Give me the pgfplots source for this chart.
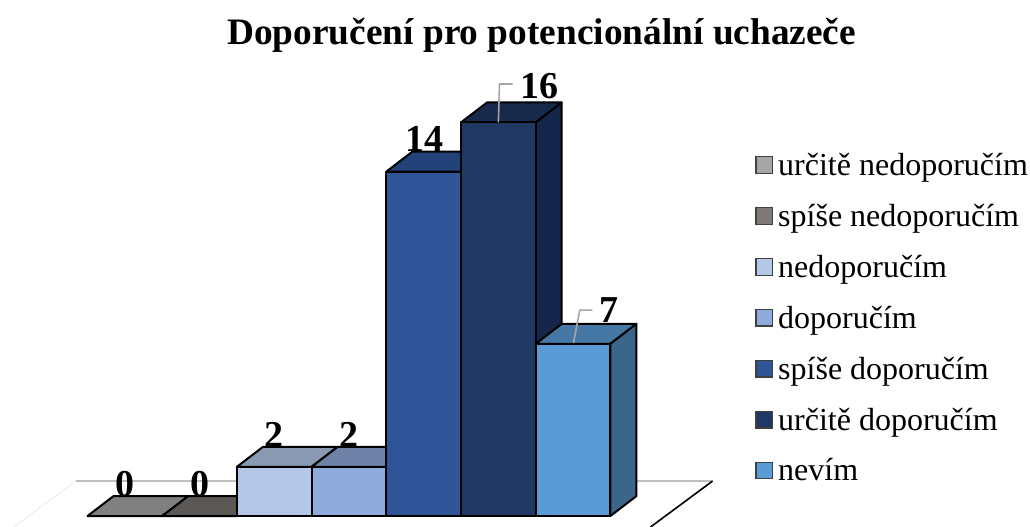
\documentclass[border=0pt]{standalone}
\usepackage{pgfplots}
\pgfplotsset{compat=1.18}
\usepackage{fontspec}
\setmainfont{Liberation Serif}
\definecolor{c1}{HTML}{A6A6A6}\definecolor{c1t}{HTML}{808080}
\definecolor{c2}{HTML}{7F7A78}\definecolor{c2t}{HTML}{5C5856}
\definecolor{c3}{HTML}{B4C7E7}\definecolor{c3t}{HTML}{8A9AB2}
\definecolor{c4}{HTML}{8FAADC}\definecolor{c4t}{HTML}{6E82A8}
\definecolor{c5}{HTML}{2F5597}\definecolor{c5t}{HTML}{24427A}
\definecolor{c6}{HTML}{1F3864}\definecolor{c6t}{HTML}{172A4C}\definecolor{c6s}{HTML}{15264A}
\definecolor{c7}{HTML}{5B9BD5}\definecolor{c7t}{HTML}{4678A5}\definecolor{c7s}{HTML}{3B6689}
\newcommand\lab[1]{{\fontsize{28.5}{30}\selectfont\bfseries #1}}
\begin{document}
\begin{tikzpicture}[x=1pt,y=1pt]
\path[use as bounding box] (0,0) rectangle (772.5pt,395.25pt);
\begin{axis}[at={(0,0)},anchor=south west,scale only axis,width=772.5pt,height=395.25pt,
  hide axis,clip=false,xmin=-1.6717,xmax=12.117,ymin=-0.447,ymax=20.976,
  legend cell align=left,
  legend style={at={(axis cs:8.44,14.86)},anchor=north west,draw=none,fill=none,
    font=\fontsize{24}{26}\selectfont,row sep=16pt,inner sep=0pt,outer sep=0pt},
  legend image code/.code={\draw[#1,line width=0.9pt,draw=black!75] (0pt,-6pt) rectangle (12.5pt,6.5pt);\path (14.5pt,0pt);},
  bar3/.style={draw=black,line width=1.5pt,line join=round,forget plot},
  front/.style={ybar,bar width=56pt,bar shift=0pt,bar3}]
\addlegendimage{fill=c1}\addlegendentry{určitě nedoporučím}
\addlegendimage{fill=c2}\addlegendentry{spíše nedoporučím}
\addlegendimage{fill=c3}\addlegendentry{nedoporučím}
\addlegendimage{fill=c4}\addlegendentry{doporučím}
\addlegendimage{fill=c5}\addlegendentry{spíše doporučím}
\addlegendimage{fill=c6}\addlegendentry{určitě doporučím}
\addlegendimage{fill=c7}\addlegendentry{nevím}
% floor
\addplot[forget plot,draw=black!25,line width=1.5pt] coordinates {(-0.66,1.42)(7.867,1.42)};
\addplot[forget plot,draw=black,line width=1.2pt] coordinates {(7.867,1.42)(7.037,-0.447)};
\addplot[forget plot,draw=black!15,line width=0.75pt,densely dotted] coordinates {(-0.66,1.42)(-1.49,-0.447)};
% value labels
\node[anchor=base] at (axis cs:0,0.81) {\lab{0}};
\node[anchor=base] at (axis cs:1,0.81) {\lab{0}};
\node[anchor=base] at (axis cs:2,2.8) {\lab{2}};
\node[anchor=base] at (axis cs:3,2.8) {\lab{2}};
\node[anchor=base] at (axis cs:4.01,14.8) {\lab{14}};
\node[anchor=base] at (axis cs:5.55,16.99) {\lab{16}};
\node[anchor=base] at (axis cs:6.48,7.85) {\lab{7}};
% title
\node[anchor=base] at (axis cs:5.58,19.15) {{\fontsize{28}{30}\selectfont\bfseries Doporučení pro potencionální uchazeče}};
% bars
\addplot[bar3,fill=c1t] coordinates {(-0.5,0)(0.5,0)(0.848,0.81)(-0.152,0.81)} -- cycle;
\addplot[bar3,fill=c2t] coordinates {(0.5,0)(1.5,0)(1.848,0.81)(0.848,0.81)} -- cycle;
\addplot[bar3,fill=c3t] coordinates {(1.5,2)(2.5,2)(2.848,2.81)(1.848,2.81)} -- cycle;
\addplot[front,fill=c3] coordinates {(2,2)};
\addplot[bar3,fill=c4t] coordinates {(2.5,2)(3.5,2)(3.848,2.81)(2.848,2.81)} -- cycle;
\addplot[front,fill=c4] coordinates {(3,2)};
\addplot[bar3,fill=c5t] coordinates {(3.5,14)(4.5,14)(4.848,14.81)(3.848,14.81)} -- cycle;
\addplot[front,fill=c5] coordinates {(4,14)};
\addplot[bar3,fill=c6t] coordinates {(4.5,16)(5.5,16)(5.848,16.81)(4.848,16.81)} -- cycle;
\addplot[bar3,fill=c6s] coordinates {(5.5,0)(5.848,0.81)(5.848,16.81)(5.5,16)} -- cycle;
\addplot[front,fill=c6] coordinates {(5,16)};
\addplot[bar3,fill=c7t] coordinates {(5.5,7)(6.5,7)(6.848,7.81)(5.848,7.81)} -- cycle;
\addplot[bar3,fill=c7s] coordinates {(6.5,0)(6.848,0.81)(6.848,7.81)(6.5,7)} -- cycle;
\addplot[front,fill=c7] coordinates {(6,7)};
% leaders
\addplot[forget plot,draw=black!35,line width=1.2pt] coordinates {(5,16)(5.015,17.56)(5.19,17.56)};
\addplot[forget plot,draw=black!35,line width=1.2pt] coordinates {(6.005,7.03)(6.09,8.37)(6.26,8.37)};
\end{axis}
\end{tikzpicture}
\end{document}
